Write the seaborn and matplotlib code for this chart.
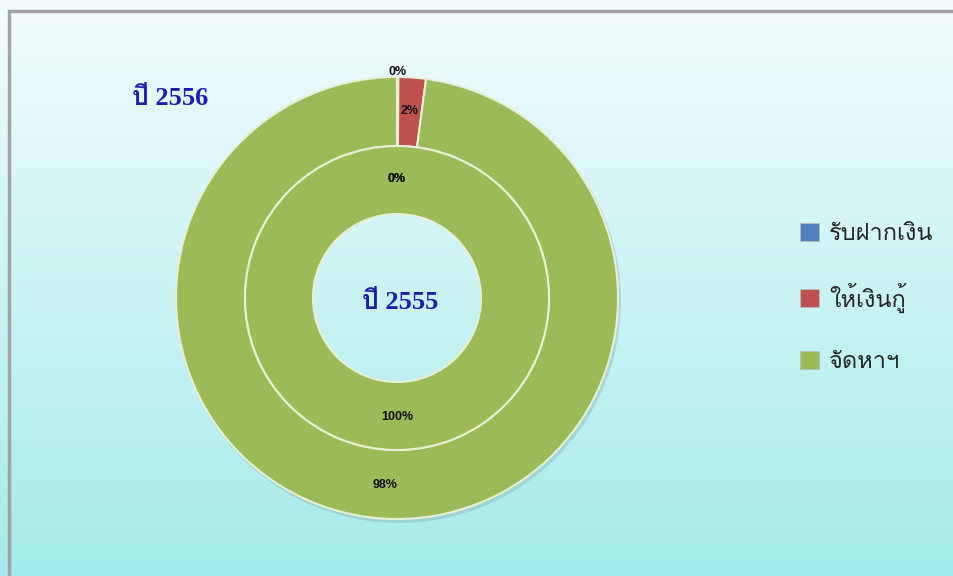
import numpy as np
import seaborn as sns
import matplotlib.pyplot as plt
from matplotlib import font_manager
from matplotlib.ft2font import FT2Font
from matplotlib.patches import Rectangle, Wedge

categories = ["รับฝากเงิน", "ให้เงินกู้", "จัดหาฯ"]
values_2556 = [0.1, 2.0, 97.9]   # outer ring
values_2555 = [0.0, 0.0, 100.0]  # inner ring
ring_titles = ["ปี 2556", "ปี 2555"]
colors = ["#4F81BD", "#C0504D", "#9BBB59"]

# find an installed font that has Thai glyphs
thai_font = None
for f in font_manager.fontManager.ttflist:
    try:
        if FT2Font(f.fname).get_char_index(ord("ป")):
            thai_font = f.name
            break
    except Exception:
        pass
sans = ["Liberation Sans", thai_font] if thai_font else ["DejaVu Sans"]
serif = ["Liberation Serif", thai_font] if thai_font else ["DejaVu Serif"]

sns.set_theme(style="white")
plt.rcParams["font.family"] = sans

fig = plt.figure(figsize=(9.54, 5.76), dpi=100)
ax = fig.add_axes([0, 0, 1, 1])

# background gradient
grad = np.linspace(0, 1, 256)[:, None]
top = np.array([242, 252, 253]) / 255
bot = np.array([165, 235, 235]) / 255
img = top[None, None, :] * (1 - grad[:, :, None]) + bot[None, None, :] * grad[:, :, None]
ax.imshow(img, extent=(0, 954, 0, 576), aspect="auto", zorder=0)
ax.add_patch(Rectangle((9, -20), 1000, 585, fill=False, edgecolor="#A3A3A3", lw=2.5, zorder=1))

center = (397, 278)
edge = dict(edgecolor="#E9EED6", linewidth=1.5)

# subtle shadow under outer ring
ax.add_patch(Wedge((center[0] + 2, center[1] - 3), 222, 0, 360, width=40,
                   color="#7FA9A9", alpha=0.35, zorder=1, lw=0))

w_out, t_out, a_out = ax.pie(values_2556, colors=colors, radius=221, center=center,
                             startangle=90, counterclock=False, autopct="%.0f%%",
                             pctdistance=0.846, wedgeprops=dict(width=69, **edge),
                             textprops=dict(fontsize=9, fontweight="bold", color="#111111"),
                             frame=True)
w_in, t_in, a_in = ax.pie(values_2555, colors=colors, radius=152, center=center,
                          startangle=90, counterclock=False, autopct="%.0f%%",
                          pctdistance=0.78, wedgeprops=dict(width=68, **edge),
                          textprops=dict(fontsize=9, fontweight="bold", color="#111111"),
                          frame=True)
ax.set_xlim(0, 954)
ax.set_ylim(0, 576)
ax.set_aspect("equal")
ax.axis("off")

# first outer label sits just outside the ring
theta = np.deg2rad((w_out[0].theta1 + w_out[0].theta2) / 2)
a_out[0].set_position((center[0] + 226 * np.cos(theta), center[1] + 226 * np.sin(theta)))

ax.text(170, 478, ring_titles[0], ha="center", va="center", fontsize=19,
        fontweight="bold", color="#1C1CB4", family=serif)
ax.text(400, 274, ring_titles[1], ha="center", va="center", fontsize=19,
        fontweight="bold", color="#1C1CB4", family=serif)

leg = ax.legend(w_out, categories, loc="upper left", bbox_to_anchor=(0.826, 0.634),
                frameon=False, fontsize=17, handlelength=0.8, handleheight=0.8,
                handletextpad=0.45, labelspacing=1.6, borderpad=0)
for h in leg.legend_handles:
    h.set_edgecolor("#BBBBBB")
    h.set_linewidth(0.6)

fig.savefig("out.png", dpi=100)
